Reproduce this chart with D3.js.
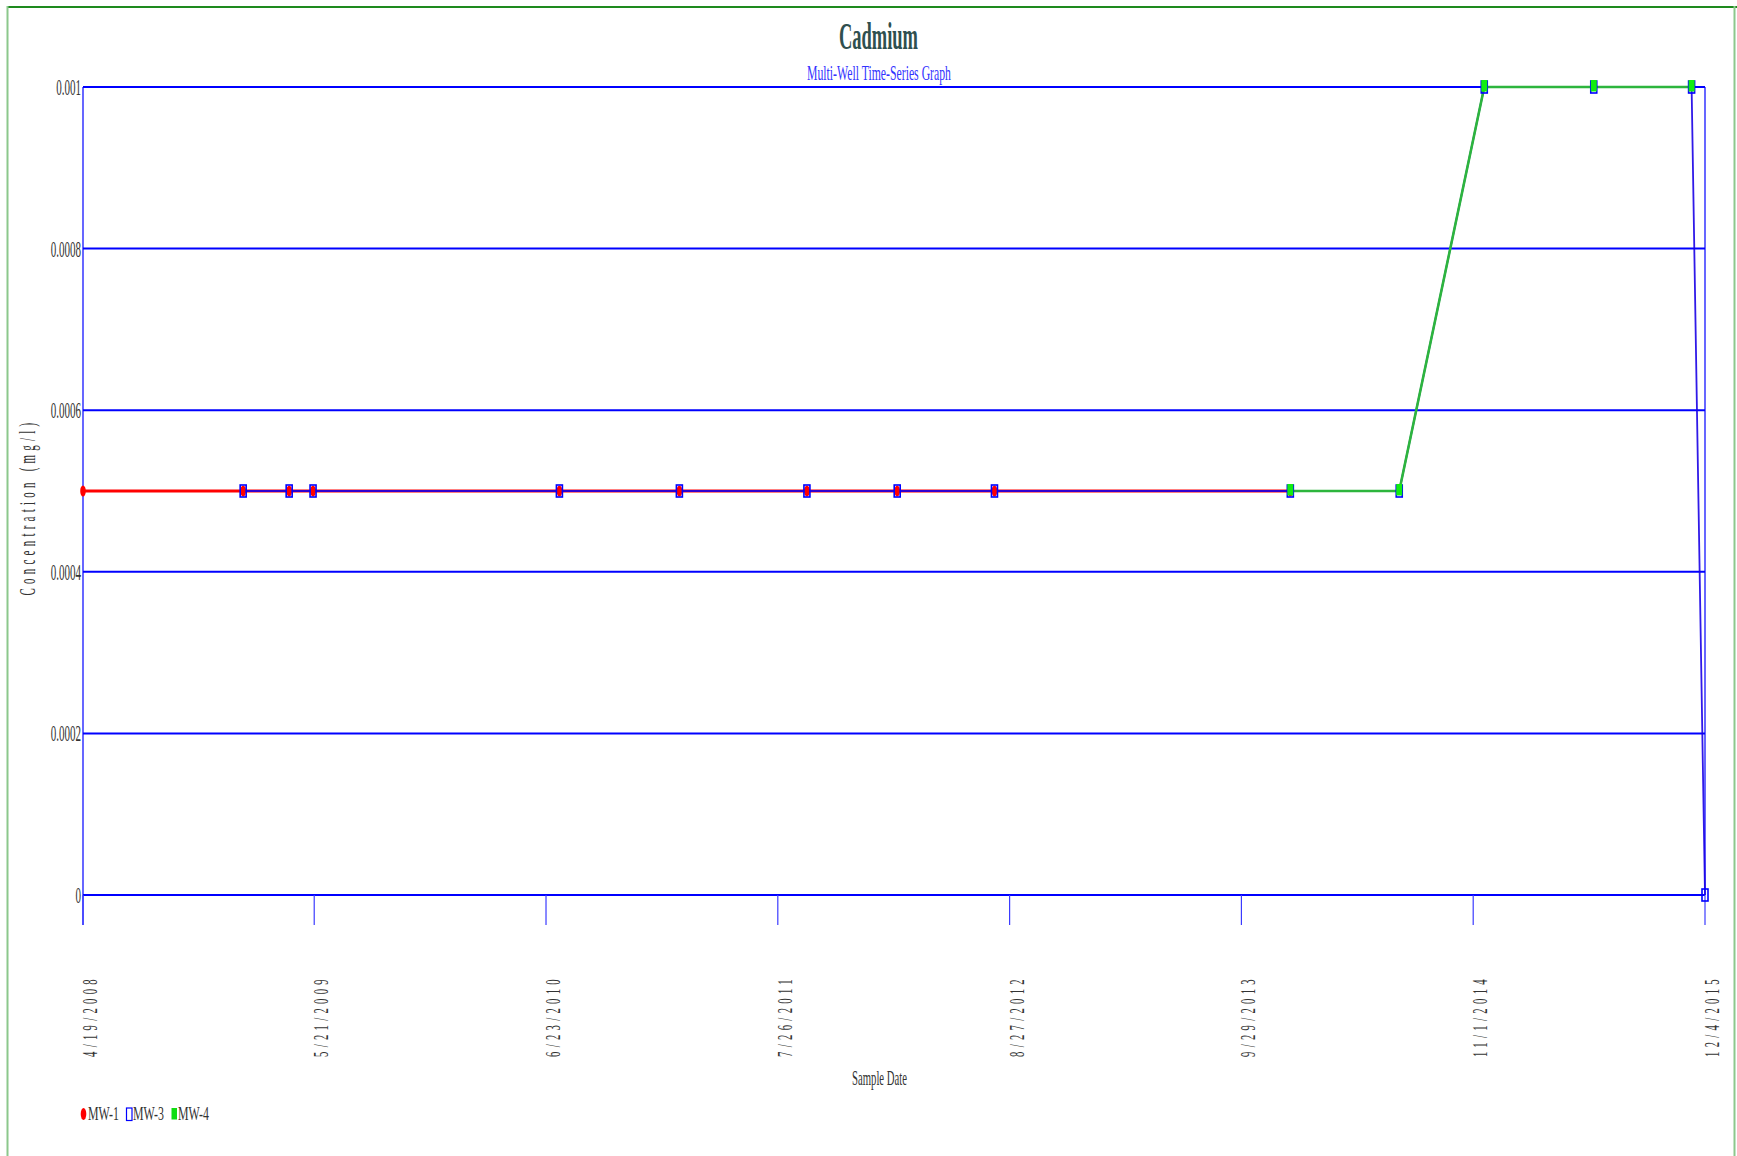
<!DOCTYPE html>
<html>
<head>
<meta charset="utf-8">
<script src="https://cdn.jsdelivr.net/npm/d3@7"></script>
<style>
  html, body { margin: 0; padding: 0; background: #fff; }
  svg { display: block; }
  text { font-family: "Liberation Serif", "Times New Roman", serif; }
</style>
</head>
<body>
<svg id="chart" width="1737" height="1156"></svg>
<script>
// Cadmium concentrations per monitoring well (mg/l)
const mw1Dates = ["2008-04-19", "2009-01-19", "2009-04-08", "2009-05-19", "2010-07-16",
                  "2011-02-07", "2011-09-14", "2012-02-16", "2012-08-01", "2013-12-22"];
const mw1Values = [0.0005, 0.0005, 0.0005, 0.0005, 0.0005,
                   0.0005, 0.0005, 0.0005, 0.0005, 0.0005];

const mw3Dates = ["2009-01-19", "2009-04-08", "2009-05-19", "2010-07-16", "2011-02-07",
                  "2011-09-14", "2012-02-16", "2012-08-01", "2013-12-22", "2014-06-27",
                  "2014-11-20", "2015-05-27", "2015-11-11", "2015-12-04"];
const mw3Values = [0.0005, 0.0005, 0.0005, 0.0005, 0.0005,
                   0.0005, 0.0005, 0.0005, 0.0005, 0.0005,
                   0.001, 0.001, 0.001, 0];

const mw4Dates = ["2013-12-22", "2014-06-27", "2014-11-20", "2015-05-27", "2015-11-11"];
const mw4Values = [0.0005, 0.0005, 0.001, 0.001, 0.001];

const xTickDates = ["2008-04-19", "2009-05-21", "2010-06-23", "2011-07-26",
                    "2012-08-27", "2013-09-29", "2014-11-01", "2015-12-04"];
const xTickLabels = ["4/19/2008", "5/21/2009", "6/23/2010", "7/26/2011",
                     "8/27/2012", "9/29/2013", "11/1/2014", "12/4/2015"];
const yTickValues = [0, 0.0002, 0.0004, 0.0006, 0.0008, 0.001];
const yTickLabels = ["0", "0.0002", "0.0004", "0.0006", "0.0008", "0.001"];

const parse = d3.utcParse("%Y-%m-%d");
const zip = (ds, vs) => ds.map((d, i) => ({ date: parse(d), value: vs[i] }));
const mw1 = zip(mw1Dates, mw1Values);
const mw3 = zip(mw3Dates, mw3Values);
const mw4 = zip(mw4Dates, mw4Values);

const svg = d3.select("#chart");
const plot = { left: 83, right: 1705, top: 87, bottom: 895 };

const x = d3.scaleUtc()
  .domain([parse("2008-04-19"), parse("2015-12-04")])
  .range([plot.left, plot.right]);
const y = d3.scaleLinear()
  .domain([0, 0.001])
  .range([plot.bottom, plot.top]);

// squeeze a text horizontally (narrow typeface look)
function squeeze(sel, factor) {
  sel.each(function () {
    const w = this.getComputedTextLength();
    d3.select(this).attr("textLength", w * factor).attr("lengthAdjust", "spacingAndGlyphs");
  });
}

// outer frame
svg.append("line").attr("x1", 7).attr("x2", 1737).attr("y1", 7).attr("y2", 7)
  .attr("stroke", "#1e8a1e").attr("stroke-width", 2);
svg.append("line").attr("x1", 7.5).attr("x2", 7.5).attr("y1", 6).attr("y2", 1156)
  .attr("stroke", "#8cc88c").attr("stroke-width", 2);
svg.append("line").attr("x1", 1734.5).attr("x2", 1734.5).attr("y1", 6).attr("y2", 1156)
  .attr("stroke", "#8cc88c").attr("stroke-width", 2);

// titles
svg.append("text").attr("x", 878.5).attr("y", 49).attr("text-anchor", "middle")
  .attr("font-size", 38).attr("font-weight", "bold").attr("fill", "#2f4f4f")
  .attr("textLength", 79).attr("lengthAdjust", "spacingAndGlyphs")
  .text("Cadmium");
svg.append("text").attr("x", 879).attr("y", 80).attr("text-anchor", "middle")
  .attr("font-size", 22).attr("fill", "#3333ff")
  .attr("textLength", 144).attr("lengthAdjust", "spacingAndGlyphs")
  .text("Multi-Well Time-Series Graph");

// horizontal grid lines
svg.append("g").selectAll("line").data(yTickValues).join("line")
  .attr("x1", plot.left).attr("x2", plot.right)
  .attr("y1", d => y(d)).attr("y2", d => y(d))
  .attr("stroke", "#0000ff").attr("stroke-width", 2);

// left axis line and right border
svg.append("line").attr("x1", plot.left).attr("x2", plot.left)
  .attr("y1", plot.top).attr("y2", plot.bottom + 30)
  .attr("stroke", "#0000ff").attr("stroke-width", 1.2);
svg.append("line").attr("x1", plot.right).attr("x2", plot.right)
  .attr("y1", plot.top).attr("y2", plot.bottom)
  .attr("stroke", "#0000ff").attr("stroke-width", 1.2);

// y tick labels
svg.append("g").selectAll("text").data(yTickValues).join("text")
  .attr("x", plot.left - 2).attr("y", d => y(d) + 8)
  .attr("text-anchor", "end").attr("font-size", 24).attr("fill", "#333")
  .text((d, i) => yTickLabels[i])
  .call(squeeze, 0.46);

// x ticks
svg.append("g").selectAll("line").data(xTickDates).join("line")
  .attr("x1", d => x(parse(d))).attr("x2", d => x(parse(d)))
  .attr("y1", plot.bottom).attr("y2", plot.bottom + 30)
  .attr("stroke", "#3b3bff").attr("stroke-width", 1.2);

// x tick labels (rotated, reading upwards)
svg.append("g").selectAll("text").data(xTickDates).join("text")
  .attr("transform", d => `translate(${x(parse(d)) + 14},975) rotate(-90)`)
  .attr("text-anchor", "end").attr("font-size", 22).attr("fill", "#333")
  .attr("letter-spacing", 9)
  .attr("textLength", 82).attr("lengthAdjust", "spacingAndGlyphs")
  .text((d, i) => xTickLabels[i]);

// axis titles
svg.append("text").attr("x", 879.5).attr("y", 1085).attr("text-anchor", "middle")
  .attr("font-size", 22).attr("fill", "#333")
  .attr("textLength", 55).attr("lengthAdjust", "spacingAndGlyphs")
  .text("Sample Date");
svg.append("text").attr("transform", "translate(35,507) rotate(-90)")
  .attr("text-anchor", "middle").attr("font-size", 23).attr("fill", "#333")
  .attr("letter-spacing", 9)
  .attr("textLength", 177).attr("lengthAdjust", "spacingAndGlyphs")
  .text("Concentration (mg/l)");

// series lines
const line = d3.line().x(d => x(d.date)).y(d => y(d.value));
svg.append("path").datum(mw1).attr("d", line)
  .attr("fill", "none").attr("stroke", "#ff0000").attr("stroke-width", 3);
svg.append("path").datum(mw3).attr("d", line)
  .attr("fill", "none").attr("stroke", "#1a00e6").attr("stroke-width", 1.8).attr("opacity", 0.9);
svg.append("path").datum(mw4).attr("d", line)
  .attr("fill", "none").attr("stroke", "#2db53d").attr("stroke-width", 2.6);

// markers
svg.append("g").selectAll("ellipse").data(mw1).join("ellipse")
  .attr("cx", d => x(d.date)).attr("cy", d => y(d.value))
  .attr("rx", 2.8).attr("ry", 5.5).attr("fill", "#ff0000");
svg.append("g").selectAll("rect").data(mw3).join("rect")
  .attr("x", d => x(d.date) - 3).attr("y", d => y(d.value) - 6)
  .attr("width", 6).attr("height", 12)
  .attr("fill", "none").attr("stroke", "#0000ff").attr("stroke-width", 1.6);
svg.append("g").selectAll("rect").data(mw4).join("rect")
  .attr("x", d => x(d.date) - 3).attr("y", d => y(d.value) - 7)
  .attr("width", 6).attr("height", 11.5)
  .attr("fill", "#11ee11");

// legend
const legend = svg.append("g");
legend.append("ellipse").attr("cx", 83.5).attr("cy", 1114).attr("rx", 2.8).attr("ry", 6)
  .attr("fill", "#ff0000");
legend.append("rect").attr("x", 126.5).attr("y", 1108).attr("width", 5.5).attr("height", 12.5)
  .attr("fill", "none").attr("stroke", "#0000ff").attr("stroke-width", 1.2);
legend.append("rect").attr("x", 171.5).attr("y", 1108).attr("width", 5.5).attr("height", 11.5)
  .attr("fill", "#11dd11");
const legendNames = ["MW-1", "MW-3", "MW-4"];
const legendX = [88, 133, 178];
legend.selectAll("text").data(legendNames).join("text")
  .attr("x", (d, i) => legendX[i]).attr("y", 1120)
  .attr("font-size", 18).attr("fill", "#333")
  .attr("textLength", 31).attr("lengthAdjust", "spacingAndGlyphs")
  .text(d => d);
</script>
</body>
</html>
